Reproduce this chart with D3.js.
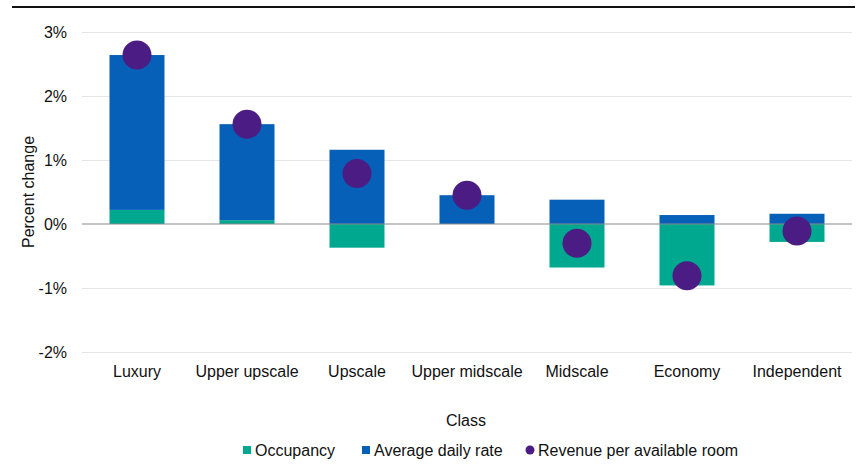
<!DOCTYPE html>
<html lang="en">
<head>
<meta charset="utf-8">
<title>Percent change by class</title>
<script src="https://d3js.org/d3.v7.min.js"></script>
<style>
  body { margin: 0; background: #fff; }
  svg text { font-family: "Liberation Sans", Arial, sans-serif; fill: #111; }
  .grid line { stroke: #e6e6e6; }
  .grid .domain { display: none; }
  .y.axis .domain, .y.axis line { display: none; }
  .x.axis .domain, .x.axis line { display: none; }
</style>
</head>
<body>
<script>
var classes = ['Luxury', 'Upper upscale', 'Upscale', 'Upper midscale', 'Midscale', 'Economy', 'Independent'];
var occupancy = [0.22, 0.06, -0.37, 0.0, -0.68, -0.96, -0.28];
var adr = [2.42, 1.50, 1.16, 0.45, 0.38, 0.14, 0.16];
var revpar = [2.64, 1.56, 0.79, 0.45, -0.30, -0.81, -0.11];
var yTicks = [-2, -1, 0, 1, 2, 3];

var w = 863, h = 467;
var margin = {top: 32, right: 11, bottom: 115, left: 82};
var innerW = w - margin.left - margin.right,
    innerH = h - margin.top - margin.bottom;

var colors = {occ: '#00a88f', adr: '#0760b8', rev: '#4b1c83'};

var x = d3.scaleBand().domain(classes).range([0, innerW]).paddingInner(0.5).paddingOuter(0.25);
var y = d3.scaleLinear().domain([-2, 3]).range([innerH, 0]);

var svg = d3.select('body').append('svg')
    .attr('width', w)
    .attr('height', h);

// top rule
svg.append('line')
  .attr('x1', 12).attr('x2', 855)
  .attr('y1', 7).attr('y2', 7)
  .attr('stroke', '#111').attr('stroke-width', 2);

var g = svg.append('g')
    .attr('transform', 'translate(' + [margin.left, margin.top] + ')');

g.append('g')
  .attr('class', 'grid')
  .call(d3.axisLeft(y).tickValues(yTicks.filter(function(t){ return t !== 0; })).tickSize(-innerW).tickFormat(''));

g.append('g')
  .attr('class', 'y axis')
  .attr('transform', 'translate(-15,0)')
  .call(d3.axisLeft(y).tickValues(yTicks).tickSize(0).tickPadding(0).tickFormat(function(d){ return d + '%'; }))
  .selectAll('text').style('font-size', '16px');

// stacked bars: occupancy from zero, adr stacked on positive occupancy
var rows = classes.map(function(c, i) {
  var o = occupancy[i], a = adr[i];
  var occ = [Math.min(0, o), Math.max(0, o)];
  var base = o > 0 ? o : 0;
  var ad = a >= 0 ? [base, base + a] : [Math.min(0, o) + a, Math.min(0, o)];
  return {cls: c, occ: occ, adr: ad, rev: revpar[i]};
});

g.selectAll('.occ')
  .data(rows)
  .enter().append('rect')
  .attr('class', 'occ')
  .attr('x', function(d){ return x(d.cls); })
  .attr('width', x.bandwidth())
  .attr('y', function(d){ return y(d.occ[1]); })
  .attr('height', function(d){ return y(d.occ[0]) - y(d.occ[1]); })
  .attr('fill', colors.occ);

g.selectAll('.adr')
  .data(rows)
  .enter().append('rect')
  .attr('class', 'adr')
  .attr('x', function(d){ return x(d.cls); })
  .attr('width', x.bandwidth())
  .attr('y', function(d){ return y(d.adr[1]); })
  .attr('height', function(d){ return y(d.adr[0]) - y(d.adr[1]); })
  .attr('fill', colors.adr);

// zero line
g.append('line')
  .attr('x1', 0).attr('x2', innerW)
  .attr('y1', y(0)).attr('y2', y(0))
  .attr('stroke', '#8a8a8a').attr('stroke-width', 1.2);

g.selectAll('.rev')
  .data(rows)
  .enter().append('circle')
  .attr('class', 'rev')
  .attr('cx', function(d){ return x(d.cls) + x.bandwidth() / 2; })
  .attr('cy', function(d){ return y(d.rev); })
  .attr('r', 14.5)
  .attr('fill', colors.rev);

g.append('g')
  .attr('class', 'x axis')
  .attr('transform', 'translate(0,' + (innerH + 11) + ')')
  .call(d3.axisBottom(x).tickSize(0).tickPadding(0))
  .selectAll('text').style('font-size', '16px').attr('dy', '0.9em');

svg.append('text')
  .attr('transform', 'translate(34,' + (margin.top + y(0.5)) + ') rotate(-90)')
  .attr('text-anchor', 'middle')
  .style('font-size', '16px')
  .text('Percent change');

svg.append('text')
  .attr('x', 466).attr('y', 426)
  .attr('text-anchor', 'middle')
  .style('font-size', '16px')
  .text('Class');

// legend
var legend = [
  {label: 'Occupancy', color: colors.occ, shape: 'rect', x: 243},
  {label: 'Average daily rate', color: colors.adr, shape: 'rect', x: 362},
  {label: 'Revenue per available room', color: colors.rev, shape: 'circle', x: 526}
];
var lg = svg.append('g').attr('transform', 'translate(0,451)');
legend.forEach(function(l) {
  if (l.shape === 'rect') {
    lg.append('rect').attr('x', l.x).attr('y', -5).attr('width', 8).attr('height', 8).attr('fill', l.color);
  } else {
    lg.append('circle').attr('cx', l.x + 4).attr('cy', -1).attr('r', 4.5).attr('fill', l.color);
  }
  lg.append('text').attr('x', l.x + 12).attr('y', 5).style('font-size', '16px').text(l.label);
});
</script>
</body>
</html>
